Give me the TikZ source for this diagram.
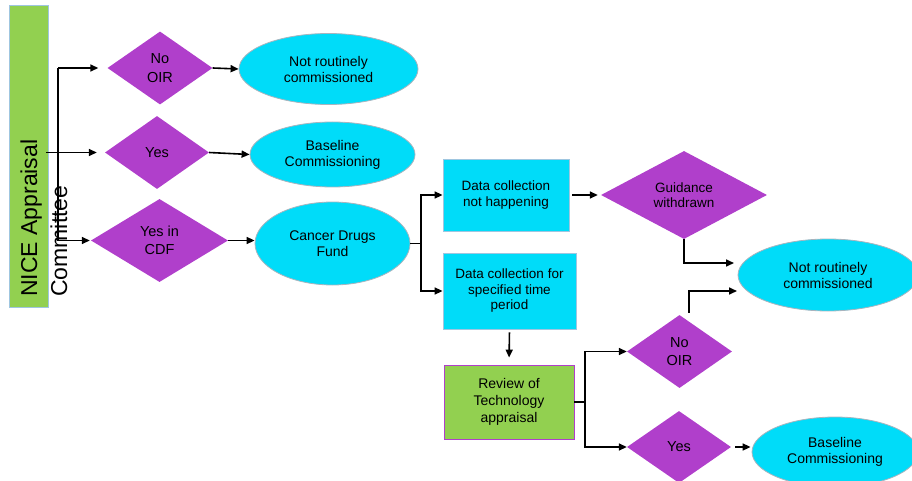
\documentclass[tikz,border=0pt]{standalone}
\usepackage{fontspec}
\setmainfont{Liberation Sans}
\usetikzlibrary{shapes.geometric,arrows.meta,calc}
\definecolor{dpurple}{HTML}{B03FCB}
\definecolor{ecyan}{HTML}{00DCF9}
\definecolor{lgreen}{HTML}{92D050}
\definecolor{egray}{HTML}{A9B4BE}
\definecolor{bblue}{HTML}{9FC6E0}
\begin{document}
\begin{tikzpicture}[x=1pt,y=-1pt,
  dec/.style={diamond, fill=dpurple, draw=none, inner sep=0pt, align=center, font=\fontsize{14.5}{18.5}\selectfont},
  ell/.style={ellipse, fill=ecyan, draw=egray, line width=0.8pt, inner sep=0pt, align=center, font=\fontsize{14}{16}\selectfont},
  dbox/.style={rectangle, fill=ecyan, draw=bblue, line width=0.8pt, inner sep=0pt, align=center, font=\fontsize{13.5}{15.5}\selectfont},
  rbox/.style={rectangle, fill=lgreen, draw=dpurple, line width=0.8pt, inner sep=0pt, align=center, font=\fontsize{14}{17}\selectfont},
  conn/.style={line width=1.6pt, black},
  arr/.style={conn, -{Triangle[length=8pt,width=7pt]}}
]
\useasboundingbox (0,0) rectangle (912,481);

% left bar
\node[rectangle, fill=lgreen, draw=bblue, line width=0.8pt, minimum width=39pt, minimum height=302pt, inner sep=0pt] (bar) at (28.5,156) {};
\node[rotate=90, anchor=base west, align=left, inner sep=0pt, font=\fontsize{23}{30}\selectfont] (nice) at (67,297) {NICE Appraisal\\Committee};

% first column diamonds
\node[dec, minimum width=105pt, minimum height=73pt] (d1) at (160,68) {No\\OIR};
\node[dec, minimum width=104pt, minimum height=73pt] (d2) at (157,152.5) {Yes};
\node[dec, minimum width=137pt, minimum height=83pt] (d3) at (159.5,240.5) {Yes in\\CDF};

% ellipses
\node[ell, minimum width=179pt, minimum height=71pt] (e1) at (328.5,69) {Not routinely\\commissioned};
\node[ell, minimum width=165pt, minimum height=65pt] (e2) at (332.5,154.5) {Baseline\\Commissioning};
\node[ell, minimum width=155pt, minimum height=83pt] (e3) at (332.5,243.5) {Cancer Drugs\\Fund};

% data boxes
\node[dbox, minimum width=126pt, minimum height=72pt] (b1) at (506,195) {Data collection\\not happening};
\node[dbox, minimum width=133pt, minimum height=76pt] (b2) at (509.5,291) {Data collection for\\specified time\\period};

\node[dec, minimum width=166pt, minimum height=88pt, font=\fontsize{13.5}{15.5}\selectfont] (d4) at (684,195) {Guidance\\withdrawn};
\node[ell, minimum width=180pt, minimum height=72pt] (e4) at (828,275) {Not routinely\\commissioned};

\node[rbox, minimum width=130pt, minimum height=74pt] (rv) at (509,402) {Review of\\Technology\\appraisal};

\node[dec, minimum width=105pt, minimum height=73pt] (d5) at (679.5,351.5) {No\\OIR};
\node[dec, minimum width=104pt, minimum height=72pt] (d6) at (679,447) {Yes};
\node[ell, minimum width=166pt, minimum height=70pt] (e5) at (835,452) {Baseline\\Commissioning};

% connectors, left part
\coordinate (t1) at (58,68);
\coordinate (t3) at (58,240.5);
\draw[conn] (t1) -- (t3);
\draw[arr, shorten >=9pt] (t1) -- (d1.west);
\draw[arr, shorten >=8pt] ([xshift=-2pt]bar.east |- d2.west) -- (d2.west);
\draw[arr, shorten >=1pt] (t3) -- (d3.west);
\draw[arr] (d1.east) -- (e1.west);
\draw[arr] (d2.east) -- (e2.west);
\draw[arr] (d3.east) -- (d3.east -| e3.west);

% CDF split
\coordinate (j1) at (421,243.5);
\draw[conn] (e3.east) -- (j1);
\draw[arr] (j1) |- (b1.west);
\draw[arr] (j1) |- (b2.west);

\draw[arr, shorten <=3pt, shorten >=3pt] (b1.east) -- (d4.west);
\coordinate (c1) at (734,263);
\draw[arr] (d4.south) |- (c1);

\draw[arr, shorten <=3pt, shorten >=7pt] (b2.south) -- (rv.north);

% review split
\coordinate (j2) at (585,402);
\draw[conn] (rv.east) -- (j2);
\draw[arr] (j2) |- (d5.west);
\draw[arr] (j2) |- (d6.west);

\coordinate (c2) at (737,291);
\draw[arr] ([xshift=9.5pt,yshift=2pt]d5.north) |- (c2);
\draw[arr, shorten <=4pt, shorten >=1pt] (d6.east) -- (d6.east -| e5.west);
\end{tikzpicture}
\end{document}
